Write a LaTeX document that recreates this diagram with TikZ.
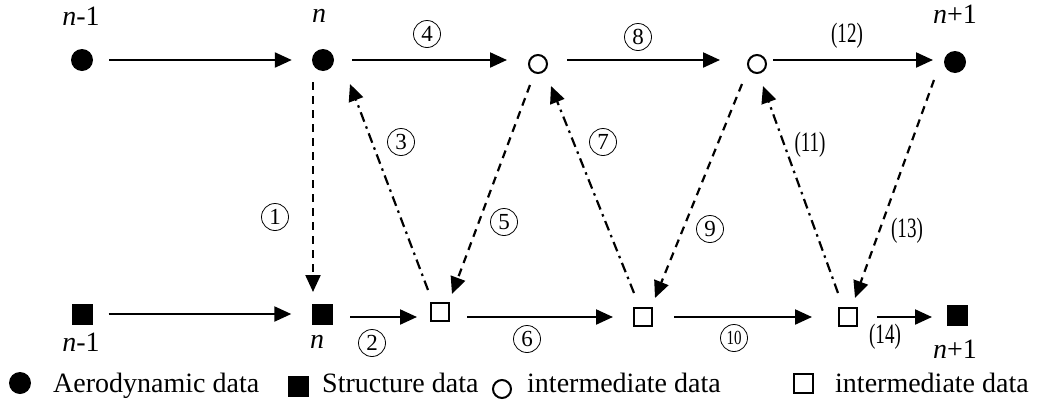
\documentclass[tikz,border=0pt]{standalone}
\usepackage{fontspec}
\setmainfont{Liberation Serif}
\usetikzlibrary{arrows.meta}
\tikzset{
  fdot/.style={circle,fill=black,minimum size=22pt,inner sep=0pt},
  odot/.style={circle,draw=black,line width=2pt,minimum size=18pt,inner sep=0pt},
  fsq/.style={rectangle,fill=black,minimum size=21pt,inner sep=0pt},
  osq/.style={rectangle,draw=black,line width=2pt,minimum size=18pt,inner sep=0pt},
  flow/.style={line width=2.2pt,-{Triangle[length=17pt,width=15pt]}},
  dashflow/.style={flow,dash pattern=on 8pt off 6pt},
  dotflow/.style={flow,dash pattern=on 10pt off 5pt on 2.5pt off 5pt},
  txt/.style={font=\fontsize{28}{30}\selectfont,inner sep=0pt},
  cnum/.style={circle,draw=black,line width=0.8pt,minimum size=27pt,inner sep=0pt,font=\fontsize{23}{23}\selectfont},
  pnum/.style={inner sep=0pt,font=\fontsize{28}{28}\selectfont},
}
\newcommand{\pn}[1]{\scalebox{0.68}[1]{(#1)}}
\begin{document}
\begin{tikzpicture}[x=1pt,y=-1pt]
\useasboundingbox (0,0) rectangle (1037,402);
% top row
\node[fdot] (A0) at (82,60) {};
\node[fdot] (A1) at (323,60) {};
\node[odot] (C1) at (538,64) {};
\node[odot] (C2) at (757,64) {};
\node[fdot] (A2) at (955,62) {};
% bottom row
\node[fsq] (S0) at (82,314) {};
\node[fsq] (S1) at (322,314) {};
\node[osq] (B1) at (440,312) {};
\node[osq] (B2) at (643,317) {};
\node[osq] (B3) at (848,317) {};
\node[fsq] (S2) at (957,315) {};
% row labels
\node[txt] (tn0) at (81,16) {\textit{n}-1};
\node[txt] (tn1) at (319,16) {\textit{n}};
\node[txt] (tn2) at (955,14) {\textit{n}+1};
\node[txt] (bn0) at (81,342) {\textit{n}-1};
\node[txt] (bn1) at (317,342) {\textit{n}};
\node[txt] (bn2) at (955,349) {\textit{n}+1};
% horizontal arrows
\draw[flow,shorten <=16pt,shorten >=20pt] (A0) -- (A1);
\draw[flow,shorten <=18pt,shorten >=31pt] (A1) -- (A1 -| C1);
\draw[flow,shorten <=29pt,shorten >=37pt] (C1 |- A1) -- (C2 |- A1);
\draw[flow,shorten <=16pt,shorten >=22pt] (C2 |- A1) -- (A2 |- A1);
\draw[flow,shorten <=16pt,shorten >=20pt] (S0) -- (S1);
\draw[flow,shorten <=28pt,shorten >=23pt] (S1 |- B2) -- (B1 |- B2);
\draw[flow,shorten <=27pt,shorten >=20pt] (B1 |- B2) -- (B2);
\draw[flow,shorten <=21pt,shorten >=26pt] (B2) -- (B3);
\draw[flow,shorten <=19pt,shorten >=25pt] (B3) -- (S2 |- B3);
% diagonal connector ends
\coordinate (e1a) at (313,82);  \coordinate (e1b) at (313,292);
\coordinate (e3a) at (428,290); \coordinate (e3b) at (350,84);
\coordinate (e5a) at (530,85);  \coordinate (e5b) at (452,294);
\coordinate (e7a) at (634,293); \coordinate (e7b) at (551,86);
\coordinate (e9a) at (742,84);  \coordinate (e9b) at (655,298);
\coordinate (e11a) at (838,293); \coordinate (e11b) at (763,86);
\coordinate (e13a) at (934,80); \coordinate (e13b) at (855,298);
\draw[dashflow] (e1a) -- (e1b);
\draw[dotflow] (e3a) -- (e3b);
\draw[dashflow] (e5a) -- (e5b);
\draw[dotflow] (e7a) -- (e7b);
\draw[dashflow] (e9a) -- (e9b);
\draw[dotflow] (e11a) -- (e11b);
\draw[dashflow] (e13a) -- (e13b);
% step labels
\node[cnum] (l1) at (275,217) {1};
\node[cnum] (l2) at (372,343) {2};
\node[cnum] (l3) at (401,142) {3};
\node[cnum] (l4) at (427,34) {4};
\node[cnum] (l5) at (504,222) {5};
\node[cnum] (l6) at (527,339) {6};
\node[cnum] (l7) at (603,142) {7};
\node[cnum] (l8) at (638,37) {8};
\node[cnum] (l9) at (710,229) {9};
\node[cnum,font=\fontsize{20}{20}\selectfont] (l10) at (734,338) {\scalebox{0.75}[1]{10}};
\node[pnum] (l11) at (810,145) {\pn{11}};
\node[pnum] (l12) at (847,36) {\pn{12}};
\node[pnum] (l13) at (907,231) {\pn{13}};
\node[pnum] (l14) at (885,337) {\pn{14}};
% legend
\node[fdot] (g1) at (20,383) {};
\node[txt,anchor=base west] (g1t) at (53,392) {Aerodynamic data};
\node[fsq] (g2) at (298,386) {};
\node[txt,anchor=base west] (g2t) at (322,392) {Structure data};
\node[odot,minimum size=18pt] (g3) at (502,389) {};
\node[txt,anchor=base west] (g3t) at (527,392) {intermediate data};
\node[osq,minimum size=19pt] (g4) at (803,383) {};
\node[txt,anchor=base west] (g4t) at (835,392) {intermediate data};
\end{tikzpicture}
\end{document}
